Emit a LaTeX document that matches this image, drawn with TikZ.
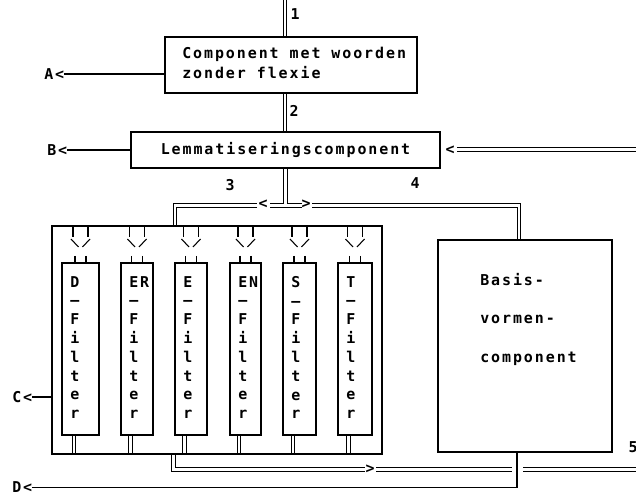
\documentclass[tikz,border=0pt]{standalone}
\usepackage{fontspec}
\newfontfamily\dm[LetterSpace=13]{DejaVu Sans Mono}
\usetikzlibrary{fit,backgrounds}
\begin{document}
\begin{tikzpicture}[x=0.75pt,y=-0.75pt,
  box/.style={draw, line width=0.9pt, inner sep=0pt},
  txt/.style={font=\dm\bfseries\fontsize{11.2pt}{15pt}\selectfont, inner sep=0pt},
  ftxt/.style={font=\dm\bfseries\fontsize{11.2pt}{14.1pt}\selectfont, inner sep=0pt, align=left, anchor=north west},
  btxt/.style={font=\dm\bfseries\fontsize{11.2pt}{28.9pt}\selectfont, inner sep=0pt, align=left, anchor=north west},
  ln/.style={line width=0.9pt},
  dbl/.style={double, double distance=2pt, line width=0.8pt},
  dbls/.style={double, double distance=1.6pt, line width=0.75pt},
  thin/.style={line width=0.8pt}]
\useasboundingbox (0,0) rectangle (636,495);

% boxes
\node[box, fit={(165,37)(417,93)}] (box1) {};
\node[txt, align=left, anchor=north west] (t1) at (182,47) {Component met woorden\\zonder flexie};
\node[box, fit={(131,132)(440,168)}] (box2) {};
\node[txt, anchor=base] (t2) at (285.5,155) {Lemmatiseringscomponent};
\node[box, fit={(52,226)(382,454)}] (bank) {};
\node[box, fit={(438,240)(612,452)}] (basis) {};
\node[btxt] (bt) at (480,273) {Basis-\\vormen-\\component};

% filters
\foreach \i/\l/\r/\nm in {1/62/99/D,2/121/153/ER,3/175/207/E,4/230/261/EN,5/283/316/S,6/338/372/T}{
  \pgfmathsetmacro\c{(\l+\r)/2}
  \node[box, fit={(\l,263)(\r,435)}] (f\i) {};
  \node[ftxt] (ft\i) at (\l+8,276) {\nm\\–\\F\\i\\l\\t\\e\\r};
  \draw[thin] (\c-7.5,226) -- (\c-7.5,237) (\c+7.5,226) -- (\c+7.5,237);
  \draw[thin] (\c-9.5,239) -- (\c-2,247) (\c+9.5,239) -- (\c+2,247);
  \draw[thin] (\c-5.5,256) -- (\c-5.5,263) (\c+5.5,256) -- (\c+5.5,263);
}

% labels
\node[txt, anchor=west] (al) at (44,74) {A<};
\node[txt, anchor=west] (bl) at (47,150) {B<};
\node[txt, anchor=west] (cl) at (12,397) {C<};
\node[txt, anchor=west] (dl) at (12,487.5) {D<};
\node[txt] (n1) at (295,14) {1};
\node[txt] (n2) at (294,111) {2};
\node[txt] (n3) at (230,185) {3};
\node[txt] (n4) at (415,183) {4};
\node[txt] (n5) at (633,447) {5};
\node[txt] (lt1) at (450,150) {<};
\node[txt] (lt2) at (263,204) {<};
\node[txt] (gt1) at (306,204) {>};
\node[txt] (gt2) at (370,469) {>};

\coordinate (top) at (285,0);
\coordinate (j1) at (173.3,454);
\coordinate (jr) at (636,149.5);
\coordinate (jr2) at (636,469.5);

\draw[ln] (al.east) -- (al.east -| box1.west);
\draw[ln] (bl.east) -- (box2.west);
\draw[ln] (cl.east) -- (cl.east -| bank.west);
\draw[ln] (dl.east) -| ([xshift=-6pt]basis.south);

\begin{scope}[on background layer]
  \draw[dbl] (top) -- (top |- box1.north);
  \draw[dbl] (285,93) -- (285,132);
  \draw[dbl] (457,149.5) -- (jr);
  \draw[dbl] (257,205.5) -| (175,226);
  \draw[dbl] (270,205.5) -- (302,205.5);
  \draw[dbl] (box2.south) -- (285.5,204.2);
  \draw[dbl] (312,205.5) -| (519,240);
  \foreach \i in {1,...,6}{
    \draw[dbls] ([xshift=-4.9pt]f\i.south) -- ([xshift=-4.9pt]f\i.south |- bank.south);
  }
  \draw[dbl] (j1) |- (365,469.5);
  \draw[dbl] (376,469.5) -- (512,469.5);
  \draw[dbl] (523,469.5) -- (jr2);
\end{scope}
\end{tikzpicture}
\end{document}
